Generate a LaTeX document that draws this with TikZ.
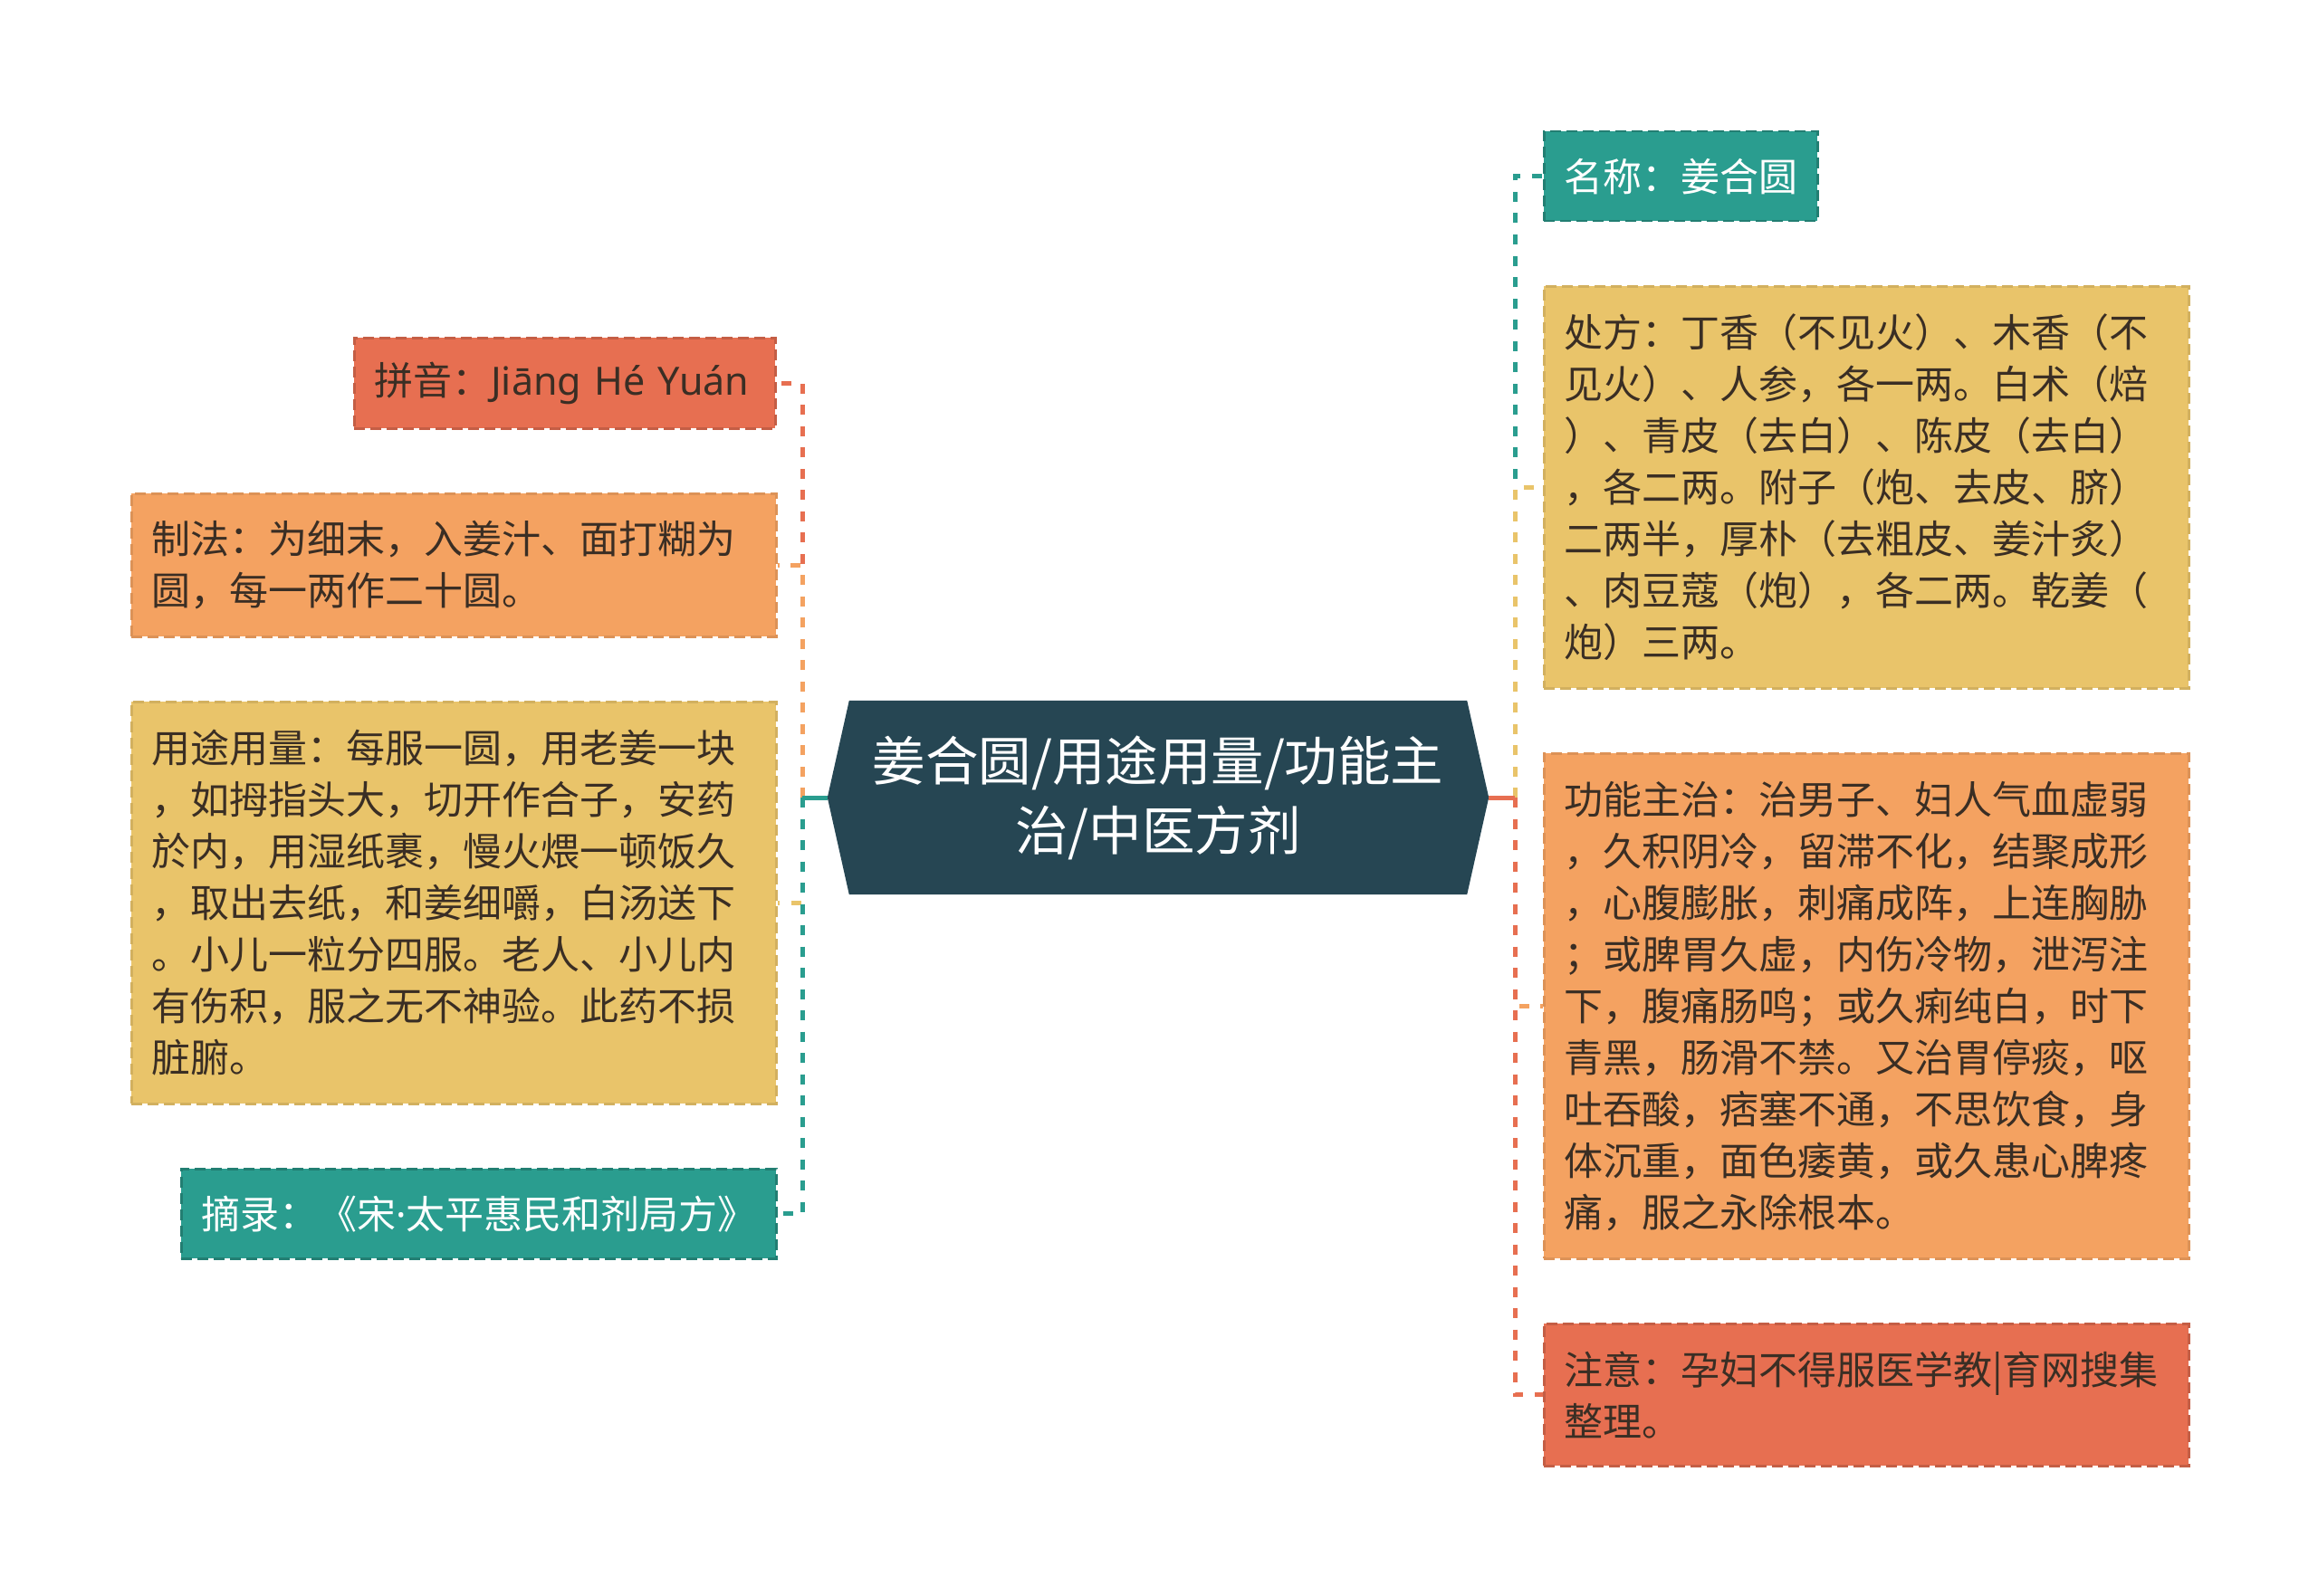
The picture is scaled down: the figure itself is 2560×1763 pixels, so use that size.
\documentclass[tikz,border=0pt]{standalone}
\usepackage{fontspec}
\setmainfont{Noto Sans CJK SC}
\newfontfamily\latinfont{Noto Sans}
\usetikzlibrary{backgrounds}
\definecolor{cteal}{HTML}{2A9D8F}
\definecolor{cyellow}{HTML}{E9C46A}
\definecolor{corange}{HTML}{F4A261}
\definecolor{cred}{HTML}{E76F51}
\definecolor{cdark}{HTML}{264653}
\definecolor{ctext}{HTML}{3A2E24}
\begin{document}
\begin{tikzpicture}[x=1pt,y=-1pt,
  box/.style={rectangle, anchor=north west, inner xsep=22pt, inner ysep=0pt,
    align=left, text=ctext, line width=2.5pt, dash pattern=on 12pt off 6pt,
    font=\fontsize{43}{57}\selectfont},
  tealbox/.style={box, fill=cteal, draw=cteal!80!black, text=white},
  yellowbox/.style={box, fill=cyellow, draw=cyellow!90!black},
  orangebox/.style={box, fill=corange, draw=corange!90!black},
  redbox/.style={box, fill=cred, draw=cred!85!black},
  conn/.style={line width=5pt, dash pattern=on 11pt off 12.5pt, line cap=butt},
  stub/.style={line width=5pt, line cap=butt},
  rootnode/.style={rectangle, minimum width=730pt, minimum height=214pt,
    inner sep=0pt, align=center, text=white, font=\fontsize{58.5}{77}\selectfont}
]
\useasboundingbox (0,0) rectangle (2560,1763);

% central node
\node[rootnode] (root) at (1279,881) {姜合圆/用途用量/功能主\\治/中医方剂};
\begin{scope}[on background layer]
\fill[white] (0,0) rectangle (2560,1763);
\fill[cdark] (root.west) -- ([xshift=24pt]root.north west) -- ([xshift=-24pt]root.north east)
  -- (root.east) -- ([xshift=-24pt]root.south east) -- ([xshift=24pt]root.south west) -- cycle;
\end{scope}

% right side
\node[tealbox, minimum width=301pt, minimum height=99pt] (name) at (1704,144) {名称：姜合圆};
\node[yellowbox, minimum width=712pt, minimum height=444pt, text width=668pt] (recipe) at (1704,315)
 {处方：丁香（不见火）、木香（不\\见火）、人参，各一两。白术（焙\\）、青皮（去白）、陈皮（去白）\\，各二两。附子（炮、去皮、脐）\\二两半，厚朴（去粗皮、姜汁炙）\\、肉豆蔻（炮），各二两。乾姜（\\炮）三两。};
\node[orangebox, minimum width=712pt, minimum height=558pt, text width=668pt] (func) at (1704,831)
 {功能主治：治男子、妇人气血虚弱\\，久积阴冷，留滞不化，结聚成形\\，心腹膨胀，刺痛成阵，上连胸胁\\；或脾胃久虚，内伤冷物，泄泻注\\下，腹痛肠鸣；或久痢纯白，时下\\青黑，肠滑不禁。又治胃停痰，呕\\吐吞酸，痞塞不通，不思饮食，身\\体沉重，面色痿黄，或久患心脾疼\\痛，服之永除根本。};
\node[redbox, minimum width=712pt, minimum height=157pt, text width=668pt] (note) at (1704,1461)
 {\mbox{注意：孕妇不得服医学教|育网搜集}\\整理。};

% left side
\node[redbox, minimum width=465pt, minimum height=100pt, text width=421pt] (pinyin) at (390,372)
 {\mbox{拼音：{\latinfont Jiāng Hé Yuán}}};
\node[orangebox, minimum width=712pt, minimum height=158pt, text width=668pt] (make) at (144,544)
 {制法：为细末，入姜汁、面打糊为\\圆，每一两作二十圆。};
\node[yellowbox, minimum width=712pt, minimum height=444pt, text width=668pt] (usage) at (144,774)
 {用途用量：每服一圆，用老姜一块\\，如拇指头大，切开作合子，安药\\於内，用湿纸裹，慢火煨一顿饭久\\，取出去纸，和姜细嚼，白汤送下\\。小儿一粒分四服。老人、小儿内\\有伤积，服之无不神验。此药不损\\脏腑。};
\node[tealbox, minimum width=657pt, minimum height=99pt, text width=613pt] (source) at (199,1290)
 {\mbox{摘录：《宋{\latinfont ·}太平惠民和剂局方》}};

% spine junctions
\coordinate (spL) at (886,881);
\coordinate (spR) at (1673,881);

% left connectors
\draw[conn, cred] (spL) |- (pinyin.east);
\draw[conn, corange] (spL) |- (make.east);
\draw[conn, cyellow] (spL) |- (usage.east);
\draw[conn, cteal] (spL) |- (source.east);
\draw[stub, cteal] (root.west) -- (spL);

% right connectors
\draw[conn, cteal] (spR) |- (name.west);
\draw[conn, cyellow] (spR) |- (recipe.west);
\draw[conn, corange] (spR) |- (func.west);
\draw[conn, cred] (spR) |- (note.west);
\draw[stub, cred] (root.east) -- (spR);
\end{tikzpicture}
\end{document}
